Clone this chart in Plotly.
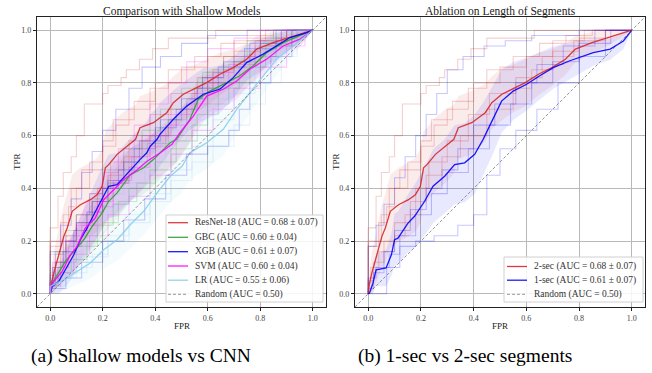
import plotly.graph_objects as go

# ---------------- data ----------------
resnet_fpr = [0, .005, .014, .033, .052, .065, .084, .115, .153, .179, .198, .21, .223, .255, .293, .325, .342, .393, .444, .469, .507, .545, .596, .646, .697, .748, .786, .849, .913, 1.0]
resnet_tpr = [0, .04, .079, .148, .218, .25, .313, .338, .357, .376, .408, .478, .49, .529, .56, .586, .63, .649, .687, .725, .757, .776, .801, .833, .858, .89, .928, .953, .972, 1.0]
resnet_std = [0, .05, .08, .1, .12, .13, .14, .14, .14, .14, .14, .14, .14, .14, .14, .13, .12, .12, .11, .1, .1, .09, .09, .08, .07, .06, .05, .04, .03, 0]

gbc_fpr = [0, .008, .058, .09, .128, .16, .198, .223, .255, .305, .356, .394, .418, .457, .482, .532, .564, .608, .672, .722, .773, .824, .887, .951, 1.0]
gbc_tpr = [0, .04, .123, .161, .205, .256, .307, .351, .383, .452, .478, .51, .535, .573, .586, .662, .738, .769, .801, .827, .865, .915, .953, .978, 1.0]
gbc_std = [0, .03, .06, .07, .08, .09, .09, .1, .1, .1, .1, .1, .1, .09, .09, .09, .08, .08, .07, .07, .06, .05, .04, .03, 0]

xgb_fpr = [0, .008, .033, .065, .09, .115, .141, .166, .198, .223, .255, .305, .343, .368, .381, .407, .418, .469, .52, .583, .646, .697, .748, .811, .862, .913, .976, 1.0]
xgb_tpr = [0, .028, .047, .104, .148, .205, .25, .3, .364, .408, .414, .471, .51, .535, .56, .586, .605, .662, .712, .757, .776, .82, .877, .909, .94, .972, .991, 1.0]
xgb_std = [0, .03, .05, .07, .08, .09, .1, .11, .12, .12, .12, .12, .12, .12, .12, .12, .12, .11, .1, .1, .09, .08, .07, .06, .05, .04, .02, 0]

svm_fpr = [0, .008, .046, .077, .103, .134, .172, .204, .242, .28, .331, .369, .419, .464, .494, .545, .596, .659, .71, .76, .824, .887, .951, 1.0]
svm_tpr = [0, .04, .085, .148, .18, .25, .288, .357, .395, .433, .471, .503, .535, .567, .611, .674, .75, .776, .807, .852, .89, .94, .966, 1.0]
svm_std = [0, .03, .05, .07, .08, .09, .09, .09, .1, .1, .1, .09, .09, .09, .09, .08, .08, .07, .07, .06, .05, .04, .03, 0]

lr_fpr = [0, 0, .052, .103, .153, .204, .255, .305, .356, .407, .457, .502, .532, .596, .659, .71, .76, .811, .862, .925, 1.0]
lr_tpr = [0, .028, .053, .085, .117, .167, .205, .262, .313, .383, .446, .484, .535, .573, .624, .7, .763, .827, .89, .94, 1.0]
lr_std = [0, .02, .04, .05, .06, .07, .08, .09, .09, .1, .1, .1, .1, .1, .1, .09, .08, .07, .06, .04, 0]

sec2_fpr = resnet_fpr
sec2_tpr = resnet_tpr
sec2_std = resnet_std

sec1_fpr = [0, .005, .018, .03, .068, .088, .1, .113, .151, .176, .214, .246, .29, .328, .366, .404, .436, .474, .506, .55, .601, .651, .702, .765, .816, .854, .918, .968, 1.0]
sec1_tpr = [0, .003, .04, .091, .098, .148, .205, .211, .268, .294, .351, .408, .446, .49, .497, .529, .586, .662, .731, .769, .795, .827, .858, .884, .903, .915, .928, .959, 1.0]
sec1_std = [0, .02, .04, .06, .07, .08, .1, .1, .11, .12, .13, .14, .14, .15, .15, .15, .14, .13, .12, .11, .1, .09, .08, .07, .06, .05, .04, .03, 0]

# per-fold curves (fpr list, tpr list)
resnet_folds = [
    ([0, 0, .03, .05, .08, .1, .13, .2, .22, .27, .29, .34, .39, .45, .63, .8, 1], [0, .1, .25, .37, .46, .52, .6, .72, .76, .79, .82, .85, .89, .93, .97, 1.0, 1]),
    ([0, 0, .05, .08, .12, .2, .25, .3, .38, .45, .55, .65, .75, .85, 1], [0, .08, .2, .3, .4, .47, .56, .64, .7, .78, .85, .9, .95, .98, 1]),
    ([0, .02, .06, .1, .16, .22, .28, .35, .45, .55, .62, .7, .8, .9, 1], [0, .05, .12, .2, .27, .35, .45, .52, .6, .7, .78, .85, .92, .97, 1]),
    ([0, 0, .04, .07, .1, .15, .2, .24, .32, .4, .5, .6, .7, .82, 1], [0, .12, .18, .27, .33, .4, .5, .58, .66, .73, .8, .86, .9, .96, 1]),
    ([0, .01, .04, .1, .14, .18, .23, .3, .38, .46, .56, .66, .78, .9, 1], [0, .04, .1, .16, .22, .3, .4, .5, .58, .68, .76, .82, .9, .96, 1]),
]
gbc_folds = [
    ([0, 0, .05, .1, .15, .2, .28, .35, .42, .5, .58, .66, .75, .85, 1], [0, .05, .15, .22, .3, .38, .47, .55, .62, .7, .78, .84, .9, .96, 1]),
    ([0, .03, .08, .14, .2, .26, .33, .4, .48, .56, .64, .72, .82, .92, 1], [0, .03, .08, .13, .2, .27, .35, .42, .5, .58, .68, .78, .86, .94, 1]),
    ([0, .02, .06, .1, .16, .22, .3, .37, .45, .52, .6, .7, .8, .9, 1], [0, .08, .16, .24, .3, .36, .42, .5, .57, .66, .74, .8, .88, .95, 1]),
    ([0, .04, .1, .18, .24, .3, .38, .46, .54, .6, .68, .76, .86, .94, 1], [0, .06, .12, .18, .26, .34, .4, .47, .55, .64, .72, .8, .9, .97, 1]),
]
xgb_folds = [
    ([0, 0, .04, .08, .12, .16, .2, .25, .3, .35, .42, .5, .6, .75, 1], [0, .06, .16, .26, .36, .46, .54, .62, .7, .78, .86, .9, .95, .98, 1]),
    ([0, .06, .12, .2, .28, .36, .44, .52, .6, .68, .72, .76, .84, .92, 1], [0, .02, .06, .12, .2, .28, .36, .45, .53, .56, .62, .7, .8, .9, 1]),
    ([0, .02, .06, .1, .16, .22, .28, .34, .42, .5, .58, .66, .76, .88, 1], [0, .04, .12, .2, .27, .35, .43, .5, .58, .66, .74, .82, .88, .95, 1]),
    ([0, .01, .05, .09, .14, .2, .26, .32, .4, .48, .56, .64, .74, .86, 1], [0, .03, .1, .16, .24, .31, .4, .47, .55, .63, .7, .78, .86, .93, 1]),
]
svm_folds = [
    ([0, .02, .06, .1, .15, .2, .26, .32, .38, .45, .52, .6, .7, .8, 1], [0, .07, .15, .22, .3, .38, .46, .55, .64, .72, .8, .88, .93, .97, 1]),
    ([0, .04, .09, .15, .22, .3, .38, .46, .54, .62, .7, .8, .9, .97, 1], [0, .03, .08, .15, .22, .3, .37, .45, .53, .62, .7, .78, .86, .94, 1]),
    ([0, .01, .05, .1, .17, .24, .3, .38, .44, .52, .6, .68, .78, .88, 1], [0, .05, .12, .2, .26, .33, .42, .48, .56, .64, .72, .8, .87, .94, 1]),
    ([0, .03, .07, .12, .18, .24, .31, .38, .46, .54, .62, .7, .8, .9, 1], [0, .04, .1, .18, .26, .35, .43, .52, .6, .68, .76, .84, .9, .96, 1]),
]
lr_folds = [
    ([0, .04, .1, .16, .22, .3, .38, .46, .54, .62, .7, .78, .86, .94, 1], [0, .02, .06, .1, .15, .22, .3, .38, .47, .56, .66, .76, .86, .94, 1]),
    ([0, .02, .06, .12, .18, .24, .3, .36, .44, .52, .6, .68, .76, .86, 1], [0, .05, .1, .16, .22, .28, .34, .42, .5, .58, .66, .74, .82, .92, 1]),
    ([0, .06, .14, .22, .3, .38, .46, .54, .62, .7, .76, .82, .88, .94, 1], [0, .03, .08, .14, .2, .27, .35, .43, .5, .56, .64, .72, .8, .9, 1]),
    ([0, .01, .05, .1, .16, .22, .28, .35, .42, .5, .58, .66, .74, .84, 1], [0, .04, .09, .15, .22, .3, .38, .46, .54, .62, .7, .78, .86, .93, 1]),
]
sec2_folds = resnet_folds
sec1_folds = [
    ([0, 0, .03, .06, .1, .14, .18, .22, .26, .3, .36, .44, .52, .62, .8, 1], [0, .09, .18, .26, .34, .44, .52, .6, .68, .76, .85, .9, .94, .96, .98, 1]),
    ([0, .07, .12, .18, .25, .34, .4, .45, .5, .56, .64, .72, .8, .9, 1], [0, 0, .1, .18, .2, .22, .26, .3, .45, .55, .62, .7, .8, .9, 1]),
    ([0, .02, .06, .1, .16, .22, .28, .34, .4, .48, .56, .64, .74, .86, 1], [0, .02, .08, .16, .24, .32, .4, .47, .55, .64, .72, .8, .87, .94, 1]),
    ([0, .03, .08, .12, .18, .24, .3, .38, .46, .54, .62, .7, .8, .92, 1], [0, .06, .1, .15, .22, .3, .38, .46, .55, .64, .72, .8, .88, .95, 1]),
]

chance_x = [-0.05, 1.05]
chance_y = [-0.05, 1.05]
random_label = "Random (AUC = 0.50)"

left_models = [
    ("ResNet-18 (AUC = 0.68 ± 0.07)", resnet_fpr, resnet_tpr, resnet_std, resnet_folds, (214, 39, 40)),
    ("GBC (AUC = 0.60 ± 0.04)", gbc_fpr, gbc_tpr, gbc_std, gbc_folds, (44, 160, 44)),
    ("XGB (AUC = 0.61 ± 0.07)", xgb_fpr, xgb_tpr, xgb_std, xgb_folds, (0, 0, 255)),
    ("SVM (AUC = 0.60 ± 0.04)", svm_fpr, svm_tpr, svm_std, svm_folds, (255, 0, 255)),
    ("LR (AUC = 0.55 ± 0.06)", lr_fpr, lr_tpr, lr_std, lr_folds, (135, 206, 235)),
]
right_models = [
    ("2-sec (AUC = 0.68 ± 0.07)", sec2_fpr, sec2_tpr, sec2_std, sec2_folds, (214, 39, 40)),
    ("1-sec (AUC = 0.61 ± 0.07)", sec1_fpr, sec1_tpr, sec1_std, sec1_folds, (0, 0, 255)),
]

SERIF = "Liberation Serif"
W, H = 652, 373


def rgba(c, a):
    return f"rgba({c[0]},{c[1]},{c[2]},{a})"


fig = go.Figure()


def add_panel(models, xa, ya):
    for name, fx, fy, sd, folds, col in models:
        assert len(fx) == len(fy) == len(sd), name
        up = [min(t + s, 1.0) for t, s in zip(fy, sd)]
        lo = [max(t - s, 0.0) for t, s in zip(fy, sd)]
        fig.add_trace(go.Scatter(x=list(fx) + list(fx)[::-1], y=up + lo[::-1], fill="toself",
                                 fillcolor=rgba(col, 0.09), line=dict(width=0), mode="lines",
                                 hoverinfo="skip", showlegend=False, xaxis=xa, yaxis=ya))
    for name, fx, fy, sd, folds, col in models:
        for ffx, ffy in folds:
            assert len(ffx) == len(ffy), name
            fig.add_trace(go.Scatter(x=ffx, y=ffy, mode="lines", line=dict(color=rgba(col, 0.22), width=1.1, shape="vh"),
                                     hoverinfo="skip", showlegend=False, xaxis=xa, yaxis=ya))
    for name, fx, fy, sd, folds, col in models:
        fig.add_trace(go.Scatter(x=fx, y=fy, mode="lines", name=name, line=dict(color=rgba(col, 0.9), width=1.3),
                                 xaxis=xa, yaxis=ya, showlegend=False))
    fig.add_trace(go.Scatter(x=chance_x, y=chance_y, mode="lines", name=random_label,
                             line=dict(color="rgba(90,90,90,0.8)", width=0.8, dash="3px,2px"),
                             xaxis=xa, yaxis=ya, showlegend=False))


add_panel(left_models, "x", "y")
add_panel(right_models, "x2", "y2")

ydom = [1 - 307 / H, 1 - 17 / H]
axis_common = dict(range=[-0.05, 1.05], tickvals=[0, 0.2, 0.4, 0.6, 0.8, 1.0], ticktext=["0.0", "0.2", "0.4", "0.6", "0.8", "1.0"],
                   showgrid=True, gridcolor="#b8b8b8", gridwidth=1.4, zeroline=False,
                   showline=True, linecolor="#222", linewidth=1.3, mirror=True,
                   ticks="outside", ticklen=3, tickcolor="#222", tickwidth=0.8,
                   tickfont=dict(family=SERIF, size=8, color="#444"))

fig.update_layout(
    width=W, height=H, margin=dict(l=0, r=0, t=0, b=0),
    paper_bgcolor="white", plot_bgcolor="white", showlegend=False,
    xaxis=dict(domain=[37 / W, 326 / W], anchor="y", **axis_common),
    yaxis=dict(domain=ydom, anchor="x", **axis_common),
    xaxis2=dict(domain=[355 / W, 645 / W], anchor="y2", **axis_common),
    yaxis2=dict(domain=ydom, anchor="x2", **axis_common),
)


def add_legend(models, box, rows_y, x_line, x_text):
    x0, y0, x1, y1 = box
    fig.add_shape(type="rect", xref="paper", yref="paper", x0=x0 / W, x1=x1 / W, y0=1 - y1 / H, y1=1 - y0 / H,
                  line=dict(color="#d0d0d0", width=1), fillcolor="rgba(255,255,255,0.85)", layer="above")
    entries = [(m[0], rgba(m[5], 0.9), "solid", 1.3) for m in models] + [(random_label, "rgba(90,90,90,0.8)", "3px,2px", 0.8)]
    for (label, color, dash, w), yy in zip(entries, rows_y):
        fig.add_shape(type="line", xref="paper", yref="paper", x0=x_line[0] / W, x1=x_line[1] / W,
                      y0=1 - yy / H, y1=1 - yy / H, line=dict(color=color, width=w, dash=dash), layer="above")
        fig.add_annotation(text=label, x=x_text / W, y=1 - yy / H, xref="paper", yref="paper", showarrow=False,
                           xanchor="left", yanchor="middle", font=dict(family=SERIF, size=9.5, color="#333"))


add_legend(left_models, (166, 215, 323, 302), [222.7, 237.3, 251.7, 266, 280.2, 294.3], (168, 188), 193)
add_legend(right_models, (504, 257, 643, 302), [266.5, 280.2, 294.3], (507, 527), 532)

ann = [
    dict(text="Comparison with Shallow Models", x=181.5 / W, y=1 - 11 / H, size=11.5),
    dict(text="Ablation on Length of Segments", x=500 / W, y=1 - 11 / H, size=11.5),
    dict(text="FPR", x=181.5 / W, y=1 - 326 / H, size=9),
    dict(text="FPR", x=500 / W, y=1 - 326 / H, size=9),
    dict(text="(a) Shallow models vs CNN", x=141 / W, y=1 - 356 / H, size=19.5),
    dict(text="(b) 1-sec vs 2-sec segments", x=465 / W, y=1 - 356 / H, size=19.5),
]
for a in ann:
    fig.add_annotation(text=a["text"], x=a["x"], y=a["y"], xref="paper", yref="paper", showarrow=False,
                       xanchor="center", yanchor="middle",
                       font=dict(family=SERIF, size=a["size"], color="#222" if a["size"] < 15 else "#000"))
for xp in (17, 336):
    fig.add_annotation(text="TPR", x=xp / W, y=1 - 162 / H, xref="paper", yref="paper", showarrow=False,
                       textangle=-90, xanchor="center", yanchor="middle", font=dict(family=SERIF, size=9, color="#222"))

fig.write_html("out.html")
